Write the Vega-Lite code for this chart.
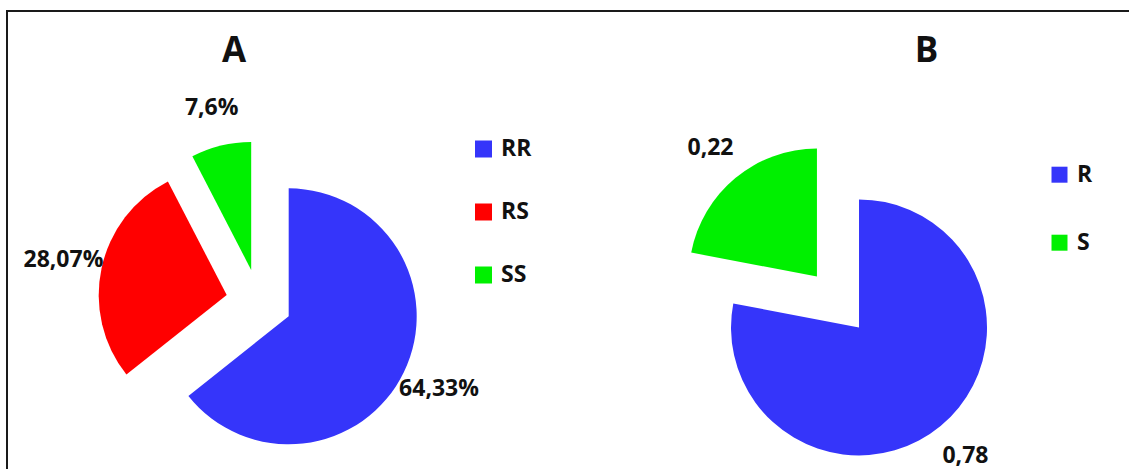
{
  "$schema": "https://vega.github.io/schema/vega-lite/v6.json",
  "width": 1129,
  "height": 469,
  "autosize": {"type": "fit", "contains": "padding"},
  "padding": {"left": 7, "top": 11, "right": -3, "bottom": -3},
  "background": "white",
  "config": {"view": {"stroke": "#1a1a1a", "strokeWidth": 2}, "font": "Open Sans"},
  "data": {
    "values": [
      {"panel": "A", "genotype": "RR", "value": 64.33, "label": "64,33%"},
      {"panel": "A", "genotype": "RS", "value": 28.07, "label": "28,07%"},
      {"panel": "A", "genotype": "SS", "value": 7.6, "label": "7,6%"},
      {"panel": "B", "genotype": "R", "value": 0.78, "label": "0,78"},
      {"panel": "B", "genotype": "S", "value": 0.22, "label": "0,22"}
    ]
  },
  "transform": [
    {"stack": "value", "groupby": ["panel"], "offset": "normalize", "sort": [{"field": "genotype", "order": "ascending"}], "as": ["s0", "s1"]}
  ],
  "layer": [
    {
      "transform": [{"filter": "datum.panel === 'A'"}],
      "mark": {
        "type": "arc",
        "radius": 128,
        "xOffset": {"expr": "33*sin(PI*(datum.s0+datum.s1))"},
        "yOffset": {"expr": "60.5-33*cos(PI*(datum.s0+datum.s1))"}
      },
      "encoding": {
        "x": {
          "field": "panel", "type": "nominal",
          "scale": {"type": "point", "domain": ["A", "B"], "padding": 0.4715, "align": 0.4615},
          "axis": {
            "orient": "top", "title": null, "domain": false, "ticks": false, "tickSize": 0, "grid": false,
            "labelAngle": 0, "labelPadding": -50.5, "labelBaseline": "alphabetic", "labelFontSize": 35,
            "labelFontWeight": "bold", "labelColor": "#111111", "labelFont": "Open Sans",
            "labelOverlap": false, "labelFlush": false, "labelBound": false,
            "labelOffset": {"condition": {"test": "datum.value === 'A'", "value": -25.5}, "value": 88}
          }
        },
        "theta": {"field": "s0", "type": "quantitative", "scale": {"domain": [0, 1]}},
        "theta2": {"field": "s1"},
        "color": {
          "field": "genotype", "type": "nominal",
          "scale": {"domain": ["RR", "RS", "SS"], "range": ["#3535FA", "#FF0000", "#00F000"]},
          "legend": {
            "orient": "none", "legendX": 465, "legendY": 126.5, "title": null, "padding": 0,
            "symbolType": "square", "symbolSize": 289, "symbolStrokeWidth": 0, "symbolOpacity": 1,
            "labelFont": "Open Sans", "labelFontSize": 23, "labelFontWeight": "bold", "labelColor": "#111111",
            "labelOffset": 6, "rowPadding": 39
          }
        }
      }
    },
    {
      "transform": [{"filter": "datum.panel === 'B'"}],
      "mark": {
        "type": "arc",
        "radius": 128,
        "xOffset": {"expr": "33*sin(PI*(datum.s0+datum.s1))"},
        "yOffset": {"expr": "60.5-33*cos(PI*(datum.s0+datum.s1))"}
      },
      "encoding": {
        "x": {
          "field": "panel", "type": "nominal",
          "scale": {"type": "point", "domain": ["A", "B"], "padding": 0.4715, "align": 0.4615},
          "axis": {
            "orient": "top", "title": null, "domain": false, "ticks": false, "tickSize": 0, "grid": false,
            "labelAngle": 0, "labelPadding": -50.5, "labelBaseline": "alphabetic", "labelFontSize": 35,
            "labelFontWeight": "bold", "labelColor": "#111111", "labelFont": "Open Sans",
            "labelOverlap": false, "labelFlush": false, "labelBound": false,
            "labelOffset": {"condition": {"test": "datum.value === 'A'", "value": -25.5}, "value": 88}
          }
        },
        "theta": {"field": "s0", "type": "quantitative", "scale": {"domain": [0, 1]}},
        "theta2": {"field": "s1"},
        "color": {
          "field": "genotype", "type": "nominal",
          "scale": {"domain": ["R", "S"], "range": ["#3535FA", "#00F000"]},
          "legend": {
            "orient": "none", "legendX": 1041, "legendY": 152.2, "title": null, "padding": 0,
            "symbolType": "square", "symbolSize": 256, "symbolStrokeWidth": 0, "symbolOpacity": 1,
            "labelFont": "Open Sans", "labelFontSize": 23, "labelFontWeight": "bold", "labelColor": "#111111",
            "labelOffset": 6, "rowPadding": 44
          }
        }
      }
    },
    {
      "mark": {
        "type": "text",
        "font": "Open Sans",
        "fontSize": 23,
        "fontWeight": "bold",
        "color": "#111111",
        "align": "center",
        "baseline": "middle",
        "xOffset": {"expr": "200*sin(PI*(datum.s0+datum.s1))"},
        "yOffset": {"expr": "60.5-200*cos(PI*(datum.s0+datum.s1))"}
      },
      "encoding": {
        "x": {
          "field": "panel", "type": "nominal",
          "scale": {"type": "point", "domain": ["A", "B"], "padding": 0.4715, "align": 0.4615},
          "axis": {
            "orient": "top", "title": null, "domain": false, "ticks": false, "tickSize": 0, "grid": false,
            "labelAngle": 0, "labelPadding": -50.5, "labelBaseline": "alphabetic", "labelFontSize": 35,
            "labelFontWeight": "bold", "labelColor": "#111111", "labelFont": "Open Sans",
            "labelOverlap": false, "labelFlush": false, "labelBound": false,
            "labelOffset": {"condition": {"test": "datum.value === 'A'", "value": -25.5}, "value": 88}
          }
        },
        "text": {"field": "label", "type": "nominal"}
      }
    }
  ],
  "resolve": {"scale": {"color": "independent"}}
}
